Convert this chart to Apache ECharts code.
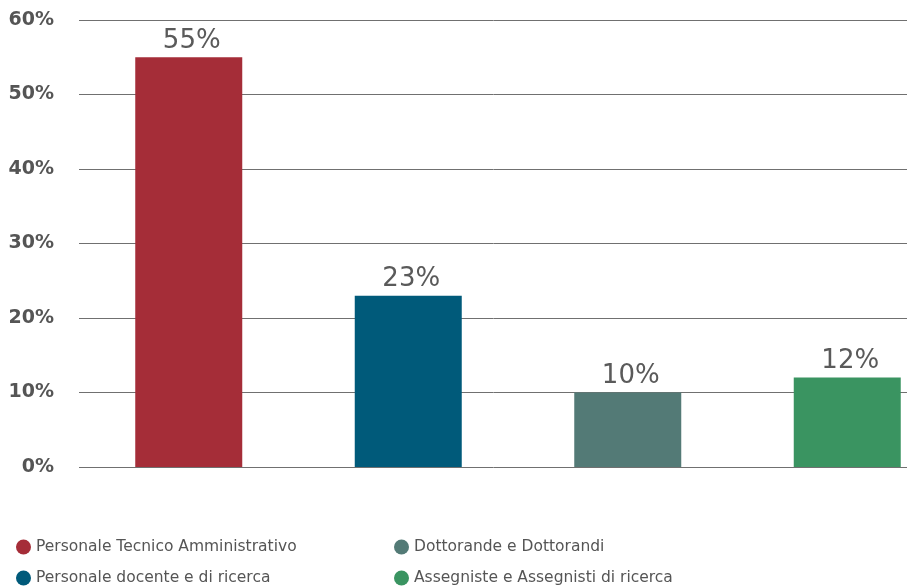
<!DOCTYPE html>
<html>
<head>
<meta charset="utf-8">
<script src="https://cdn.jsdelivr.net/npm/echarts@6/dist/echarts.min.js"></script>
<style>
  html, body { margin: 0; padding: 0; background: #ffffff; }
  #chart { width: 907px; height: 586px; }
</style>
</head>
<body>
<div id="chart"></div>
<script>
// Staff groups and their share of the total (percent)
const categories = [
  'Personale Tecnico Amministrativo',
  'Personale docente e di ricerca',
  'Dottorande e Dottorandi',
  'Assegniste e Assegnisti di ricerca'
];
const shares = [55, 23, 10, 12];
const colors = ['#A52D38', '#005A7A', '#537A76', '#3A9461'];
const yTicks = [0, 10, 20, 30, 40, 50, 60];

// One series per group so each gets its own legend entry; the other slots stay empty
const series = categories.map((name, i) => ({
  name: name,
  type: 'bar',
  stack: 'share',
  barWidth: 107,
  itemStyle: { color: colors[i] },
  data: categories.map((_, j) => (j === i ? shares[i] : '-')),
  label: {
    show: true,
    position: 'top',
    distance: 3,
    offset: [3, 0],
    fontFamily: 'DejaVu Sans',
    fontSize: 26,
    color: '#5a5a5a',
    formatter: p => p.value + '%'
  }
}));

const legendText = {
  fontFamily: 'DejaVu Sans',
  fontSize: 15.5,
  color: '#555555'
};

const legendBase = {
  orient: 'vertical',
  top: 539,
  itemWidth: 15,
  itemHeight: 15,
  itemGap: 15,
  icon: 'circle',
  textStyle: legendText,
  padding: 0
};

const chart = echarts.init(document.getElementById('chart'), null, { renderer: 'canvas' });
chart.setOption({
  animation: false,
  // the plot runs past the right edge, so the last bar sits close to the border
  grid: {
    left: 79, right: -50, top: 20, bottom: 119,
    containLabel: false,
    outerBoundsMode: 'none'
  },
  xAxis: {
    type: 'category',
    data: categories,
    axisLine: { show: false },
    axisTick: { show: false },
    axisLabel: { show: false }
  },
  yAxis: {
    type: 'value',
    min: yTicks[0],
    max: yTicks[yTicks.length - 1],
    interval: 10,
    axisLine: { show: false },
    axisTick: { show: false },
    axisLabel: {
      margin: 25,
      fontFamily: 'DejaVu Sans',
      fontWeight: 'bold',
      fontSize: 19,
      color: '#555555',
      formatter: v => v + '%'
    },
    splitLine: { lineStyle: { color: '#707070', width: 1 } }
  },
  legend: [
    Object.assign({ data: [categories[0], categories[1]], left: 16 }, legendBase),
    Object.assign({ data: [categories[2], categories[3]], left: 394 }, legendBase)
  ],
  series: series
});
</script>
</body>
</html>
